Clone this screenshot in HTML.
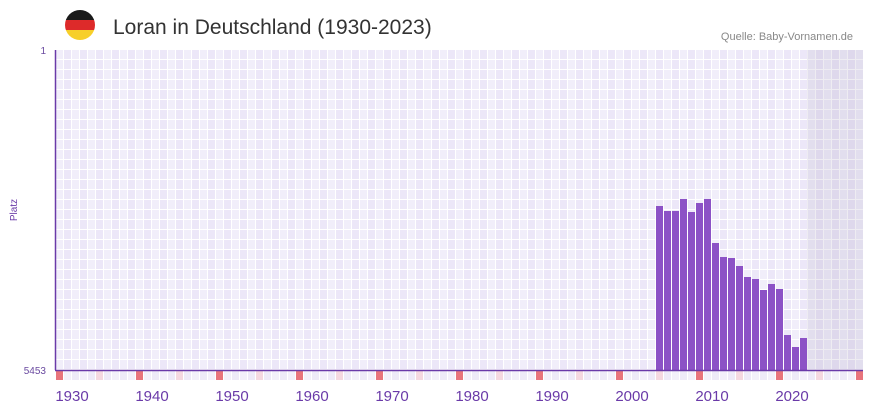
<!DOCTYPE html>
<html><head><meta charset="utf-8"><style>
body{margin:0;background:#fff;width:873px;height:412px;overflow:hidden;font-family:"Liberation Sans",sans-serif}
</style></head><body>
<svg width="873" height="412" xmlns="http://www.w3.org/2000/svg" style="position:absolute;left:0;top:0">
<defs>
<clipPath id="fc"><circle cx="80" cy="25" r="15"/></clipPath>
<pattern id="g" x="56" y="50" width="16" height="10" patternUnits="userSpaceOnUse">
<rect width="16" height="10" fill="#fff"/>
<rect x="0" y="0" width="7" height="9" fill="#f1eefa"/>
<rect x="8" y="0" width="7" height="9" fill="#ece7f8"/>
</pattern>
<pattern id="m" x="56" y="371" width="80" height="9" patternUnits="userSpaceOnUse">
<rect x="0" width="7" height="9" fill="#e8747c"/>
<rect x="40" width="7" height="9" fill="#f5d8e0"/>
<rect x="8" width="7" height="9" fill="#f3f0fa"/><rect x="16" width="7" height="9" fill="#eeeaf8"/>
<rect x="24" width="7" height="9" fill="#f3f0fa"/><rect x="32" width="7" height="9" fill="#eeeaf8"/>
<rect x="48" width="7" height="9" fill="#eeeaf8"/><rect x="56" width="7" height="9" fill="#f3f0fa"/>
<rect x="64" width="7" height="9" fill="#eeeaf8"/><rect x="72" width="7" height="9" fill="#f3f0fa"/>
</pattern>
</defs>
<g clip-path="url(#fc)">
<rect x="65" y="10" width="30" height="10" fill="#1a1a1a"/>
<rect x="65" y="20" width="30" height="10" fill="#dd2a2a"/>
<rect x="65" y="30" width="30" height="10" fill="#f7cf2a"/>
</g>
<text x="113" y="34" font-size="21" fill="#333">Loran in Deutschland (1930-2023)</text>
<text x="853" y="40" font-size="11" fill="#888" text-anchor="end">Quelle: Baby-Vornamen.de</text>
<rect x="56" y="50" width="807" height="320" fill="url(#g)"/>
<rect x="807" y="50" width="56" height="320" fill="#a99fbf" opacity="0.2"/>
<rect x="56" y="371" width="807" height="9" fill="url(#m)"/>
<g fill="#8c52c6">
<rect x="656" y="206" width="7" height="164"/>
<rect x="664" y="211" width="7" height="159"/>
<rect x="672" y="211" width="7" height="159"/>
<rect x="680" y="199" width="7" height="171"/>
<rect x="688" y="212" width="7" height="158"/>
<rect x="696" y="203" width="7" height="167"/>
<rect x="704" y="199" width="7" height="171"/>
<rect x="712" y="243" width="7" height="127"/>
<rect x="720" y="257" width="7" height="113"/>
<rect x="728" y="258" width="7" height="112"/>
<rect x="736" y="266" width="7" height="104"/>
<rect x="744" y="277" width="7" height="93"/>
<rect x="752" y="279" width="7" height="91"/>
<rect x="760" y="290" width="7" height="80"/>
<rect x="768" y="284" width="7" height="86"/>
<rect x="776" y="289" width="7" height="81"/>
<rect x="784" y="335" width="7" height="35"/>
<rect x="792" y="347" width="7" height="23"/>
<rect x="800" y="338" width="7" height="32"/>
</g>
<line x1="55.5" y1="50" x2="55.5" y2="370" stroke="#6a3aa8" stroke-width="1.5"/>
<line x1="55" y1="370.5" x2="863" y2="370.5" stroke="#6a3aa8" stroke-width="1.5"/>
<text x="46" y="54" font-size="10" fill="#6a4aa0" text-anchor="end">1</text>
<text x="46" y="374" font-size="10" fill="#6a4aa0" text-anchor="end">5453</text>
<text x="17" y="210" font-size="10" fill="#6a3aa8" text-anchor="middle" transform="rotate(-90 17 210)">Platz</text>
<g font-size="15" fill="#6a3aa8" text-anchor="middle">
<text x="72" y="401">1930</text><text x="152" y="401">1940</text><text x="232" y="401">1950</text>
<text x="312" y="401">1960</text><text x="392" y="401">1970</text><text x="472" y="401">1980</text>
<text x="552" y="401">1990</text><text x="632" y="401">2000</text><text x="712" y="401">2010</text>
<text x="792" y="401">2020</text>
</g>
</svg>
</body></html>
